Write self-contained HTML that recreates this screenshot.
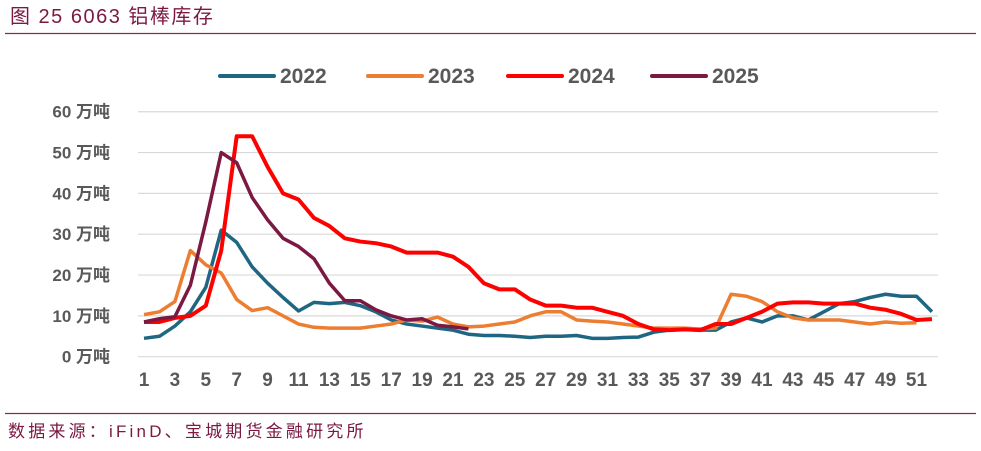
<!DOCTYPE html>
<html><head><meta charset="utf-8">
<style>
body{margin:0;background:#fff;width:981px;height:446px;overflow:hidden;font-family:"Liberation Sans","Noto Sans CJK SC",sans-serif}
svg text{font-family:"Liberation Sans","Noto Sans CJK SC",sans-serif}
</style></head><body>
<svg width="981" height="446">
<text x="10" y="23" font-size="20" letter-spacing="1.5" fill="#7b1942">图 25 6063 铝棒库存</text>
<line x1="5" y1="33.5" x2="976" y2="33.5" stroke="#8b2a4a" stroke-width="1.2"/>
<g id="grid"></g>
<g id="ylab"></g>
<g id="xlab"></g>
<g id="series"></g>
<g id="legend"></g>
<line x1="5" y1="413.5" x2="976" y2="413.5" stroke="#8b2a4a" stroke-width="1.2"/>
<text x="8" y="437" font-size="17" letter-spacing="3.2" fill="#7b1942">数据来源：iFinD、宝城期货金融研究所</text>
</svg>
<script>
const years = ["2022","2023","2024","2025"];
const colors = ["#1f6683","#ed7d31","#ff0000","#7b1942"];
const s2022 = [4.5,5,7.5,11,17,31,28,22,18,14.5,11.2,13.3,13,13.3,12.5,11,9,8,7.5,7,6.5,5.5,5.2,5.2,5,4.7,5,5,5.2,4.5,4.5,4.7,4.8,6,6.5,6.7,6.5,6.5,8.5,9.5,8.5,10,10,9,11,13,13.5,14.5,15.3,14.8,14.8,11];
const s2023 = [10.3,11,13.5,26,22.5,20.5,14,11.3,12,10,8,7.2,7,7,7,7.5,8,9,8.7,9.7,8,7.3,7.5,8,8.5,10,11,11,9,8.7,8.5,8,7.5,7,7,7,6.8,7,15.3,14.8,13.5,11,9.5,9,9,9,8.5,8,8.5,8.2,8.3];
const s2024 = [8.5,8.5,9.5,10,12.5,26,54,54,46.5,40,38.5,34,32,29,28.2,27.8,27,25.5,25.5,25.5,24.5,22,18,16.5,16.5,14,12.5,12.5,12,12,11,10,8,6.7,6.5,6.7,6.5,8,8,9.5,11,13,13.3,13.3,13,13,13,12,11.5,10.5,9,9.2];
const s2025 = [8.5,9.3,9.8,17.5,33,50,47.5,39,33.5,29,27,24,18,13.7,13.7,11.5,10,9,9.3,7.7,7.3,6.8];
const yTicks = [0,10,20,30,40,50,60];
const xTicks = [1,3,5,7,9,11,13,15,17,19,21,23,25,27,29,31,33,35,37,39,41,43,45,47,49,51];
const allSeries = [s2022,s2023,s2024,s2025];
const NS="http://www.w3.org/2000/svg";
const X = w => 144 + (w-1)*15.45;
const Y = v => 356.7 - v*4.083;
function mk(tag, attrs, parent){const e=document.createElementNS(NS,tag);for(const k in attrs)e.setAttribute(k,attrs[k]);document.getElementById(parent).appendChild(e);return e;}
yTicks.forEach(v=>{
  const l=mk("line",{x1:138,x2:938,y1:Y(v),y2:Y(v),stroke:"#d9d9d9","stroke-width":1.2},"grid");
  
  
  const t=mk("text",{x:110,y:Y(v)+6,"text-anchor":"end","font-size":17,"font-weight":"bold",fill:"#595959"},"ylab");
  t.textContent=v+" 万吨";
  
  
});
xTicks.forEach(w=>{
  const t=mk("text",{x:X(w),y:386,"text-anchor":"middle","font-size":19,"font-weight":"bold",fill:"#595959"},"xlab");
  t.textContent=w;
  
  
});
allSeries.forEach((s,i)=>{
  const p=mk("polyline",{points:s.map((v,j)=>X(j+1)+","+Y(v)).join(" "),fill:"none",stroke:colors[i],"stroke-width":i==2?4:3.5,"stroke-linejoin":"round"},"series");
  
  
});
const lx=[220,368,508,652];
years.forEach((y,i)=>{
  const l=mk("line",{x1:lx[i],x2:lx[i]+54,y1:76,y2:76,stroke:colors[i],"stroke-width":4,"stroke-linecap":"round"},"legend");
  
  
  const t=mk("text",{x:lx[i]+60,y:83,"font-size":21,"font-weight":"bold",fill:"#595959"},"legend");
  t.textContent=y;
  
  
});
</script>
</body></html>
